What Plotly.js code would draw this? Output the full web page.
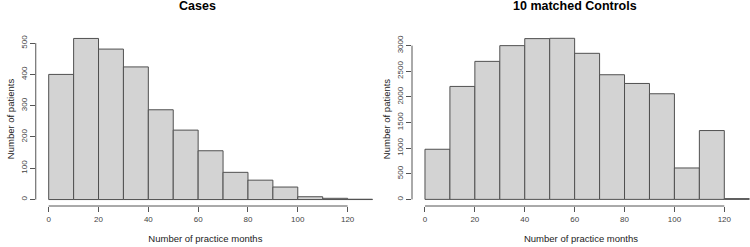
<!DOCTYPE html>
<html><head><meta charset="utf-8">
<script src="https://cdn.plot.ly/plotly-3.0.1.min.js"></script>
<style>html,body{margin:0;padding:0;background:#fff}#c{width:750px;height:247px}</style>
</head><body><div id="c"></div>
<script>
// bin left edges (width 10 months)
const binStart = [0,10,20,30,40,50,60,70,80,90,100,110,120];
const binWidth = 10;
const casesCounts = [400,515,481,424,287,222,156,87,62,40,9,4,1];
const controlsCounts = [978,2204,2693,3000,3137,3143,2850,2432,2262,2061,613,1343,15];
const xTicks = [0,20,40,60,80,100,120];
const yTicksCases = [0,100,200,300,400,500];
const yTicksControls = [0,500,1000,1500,2000,2500,3000];
const titles = ['Cases','10 matched Controls'];
const xTitle = 'Number of practice months';
const yTitle = 'Number of patients';

const barStyle = {type:'bar', offset:0, width:binWidth,
  marker:{color:'#d3d3d3', line:{color:'#505050', width:1}}, hoverinfo:'skip', showlegend:false};
const traces = [
  Object.assign({x:binStart, y:casesCounts, xaxis:'x', yaxis:'y'}, barStyle),
  Object.assign({x:binStart, y:controlsCounts, xaxis:'x2', yaxis:'y2'}, barStyle)
];
const tickFont = {family:'Liberation Sans, Arial, sans-serif', size:8, color:'#444'};
const titleFont = {family:'Liberation Sans, Arial, sans-serif', size:9.5, color:'#222'};
function xax(domain, range, anchor){
  return {domain:domain, range:range, anchor:anchor, tickvals:xTicks, ticks:'outside', ticklen:5,
    tickcolor:'#555', showgrid:false, zeroline:false, showline:false, tickfont:tickFont,
    title:{text:xTitle, font:titleFont, standoff:12}};
}
function yax(range, ticks, anchor){
  return {range:range, anchor:anchor, tickvals:ticks, ticks:'outside', ticklen:5, tickcolor:'#555',
    showgrid:false, zeroline:false, showline:false, tickfont:tickFont, tickangle:-90,
    title:{text:yTitle, font:titleFont, standoff:3}};
}
function axisLines(xr, yr, yt){
  return [
    {type:'line', xref:xr, yref:yr+' domain', x0:xTicks[0], x1:xTicks[xTicks.length-1], y0:0, y1:0, line:{color:'#555', width:1}},
    {type:'line', xref:xr+' domain', yref:yr, x0:0, x1:0, y0:yt[0], y1:yt[yt.length-1], line:{color:'#555', width:1}}
  ];
}
const layout = {
  width:750, height:247, margin:{l:0, r:0, t:32, b:41},
  paper_bgcolor:'#fff', plot_bgcolor:'#fff', bargap:0,
  xaxis: xax([35.75/750, 0.5], [-5.2, 131.0], 'y'),
  yaxis: yax([-20.6, 535.6], yTicksCases, 'x'),
  xaxis2: xax([412/750, 1], [-5.2, 130.3], 'y2'),
  yaxis2: yax([-129, 3266], yTicksControls, 'x2'),
  shapes: axisLines('x','y',yTicksCases).concat(axisLines('x2','y2',yTicksControls)),
  annotations: [
    {text:'<b>'+titles[0]+'</b>', xref:'paper', yref:'paper', x:197/750, y:1, yshift:26, xanchor:'center', yanchor:'middle', showarrow:false, font:{family:'Liberation Sans, Arial, sans-serif', size:12.5, color:'#000'}},
    {text:'<b>'+titles[1]+'</b>', xref:'paper', yref:'paper', x:575/750, y:1, yshift:26, xanchor:'center', yanchor:'middle', showarrow:false, font:{family:'Liberation Sans, Arial, sans-serif', size:12.5, color:'#000'}}
  ]
};
Plotly.newPlot('c', traces, layout, {staticPlot:true, displayModeBar:false});
</script></body></html>
